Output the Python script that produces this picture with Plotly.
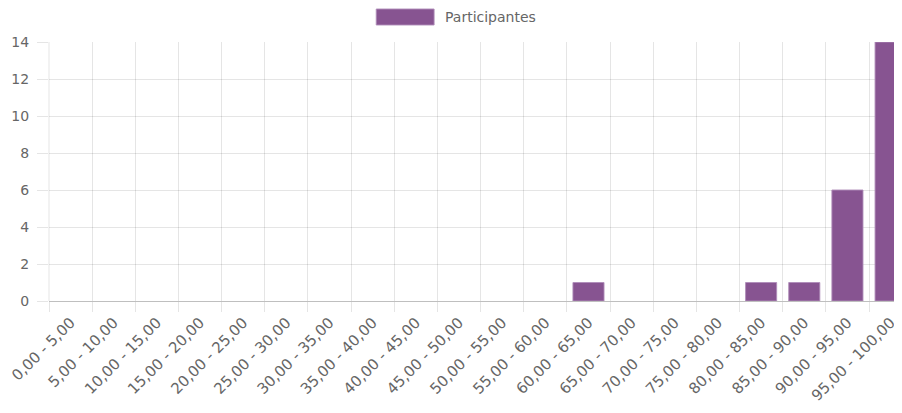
import plotly.graph_objects as go

categories = ["0,00 - 5,00", "5,00 - 10,00", "10,00 - 15,00", "15,00 - 20,00",
              "20,00 - 25,00", "25,00 - 30,00", "30,00 - 35,00", "35,00 - 40,00",
              "40,00 - 45,00", "45,00 - 50,00", "50,00 - 55,00", "55,00 - 60,00",
              "60,00 - 65,00", "65,00 - 70,00", "70,00 - 75,00", "75,00 - 80,00",
              "80,00 - 85,00", "85,00 - 90,00", "90,00 - 95,00", "95,00 - 100,00"]
participantes = [0, 0, 0, 0, 0, 0, 0, 0, 0, 0, 0, 0, 1, 0, 0, 0, 1, 1, 6, 14]
series_name = "Participantes"
y_ticks = [0, 2, 4, 6, 8, 10, 12, 14]

BAR = "rgb(135,84,145)"
BORDER = "rgba(175,140,185,0.9)"
GRID = "rgba(0,0,0,0.1)"
TXT = "#666666"
FONT = "DejaVu Sans, Verdana, sans-serif"

fig = go.Figure()
fig.add_trace(go.Bar(
    x=categories, y=participantes, name=series_name,
    marker=dict(color=BAR,
                line=dict(color=BORDER, width=[0 if v == 0 else 1 for v in participantes])),
    showlegend=False,
))

# page body has an 8px margin: figure is placed at (8, 8) in the window
W, H = 894, 405
L, R, T, B = 39, 0, 34, 112
plot_w = W - L - R
plot_h = H - T - B
step = 43.26
xmax = -0.5 + plot_w / step

fig.update_layout(
    width=W, height=H,
    margin=dict(l=L, r=R, t=T, b=B, pad=0),
    paper_bgcolor="white", plot_bgcolor="white",
    font=dict(family=FONT, color=TXT, size=14),
    bargap=0.28,
    xaxis=dict(
        type="category", range=[-0.5, xmax], tickson="boundaries",
        tickangle=-45, showgrid=True, gridcolor=GRID, gridwidth=1,
        ticks="outside", ticklen=10, tickcolor=GRID, tickwidth=1,
        zeroline=False, showline=False, ticklabelstandoff=9,
        tickfont=dict(family=FONT, size=15, color=TXT),
    ),
    yaxis=dict(
        range=[0, 14], tickmode="array", tickvals=y_ticks,
        showgrid=True, gridcolor=GRID, gridwidth=1,
        ticks="outside", ticklen=11, tickcolor=GRID, tickwidth=1,
        zeroline=True, zerolinecolor="rgba(0,0,0,0.25)", zerolinewidth=1,
        showline=False, ticklabelstandoff=5,
        tickfont=dict(family=FONT, size=14, color=TXT),
    ),
    shapes=[
        dict(type="line", xref="paper", yref="paper", x0=0, x1=0, y0=0, y1=1,
             line=dict(color=GRID, width=1)),
        dict(type="rect", xref="paper", yref="paper",
             x0=(367 - L) / plot_w, x1=(425 - L) / plot_w,
             y0=1 + (T - 17) / plot_h, y1=1 + (T - 1) / plot_h,
             fillcolor=BAR, line=dict(color=BORDER, width=1)),
    ],
    annotations=[dict(text=series_name, xref="paper", yref="paper",
                      x=(434 - L) / plot_w, y=1 + (T - 9) / plot_h,
                      xanchor="left", yanchor="middle", showarrow=False,
                      font=dict(family=FONT, size=14, color=TXT))],
)

fig.write_html("out.html")
